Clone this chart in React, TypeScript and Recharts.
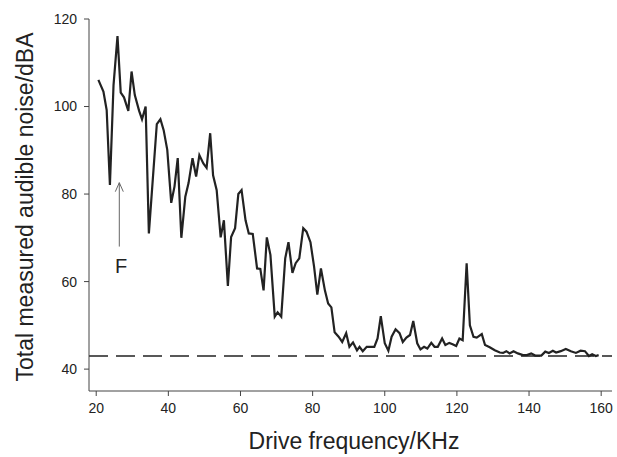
import { Line, LineChart, ReferenceDot, ReferenceLine, XAxis, YAxis } from 'recharts';

const freq = [
  20.6, 22, 22.9, 23.8, 24.8, 25.9, 26.8, 27.7, 28.9, 29.8, 30.7, 31.9, 32.7, 33.7, 34.6,
  36.8, 37.8, 38.7, 39.7, 40.8, 41.7, 42.6, 43.6, 44.7, 45.6, 46.7, 47.7, 48.6, 49.7,
  50.6, 51.6, 52.4, 53.4, 54.5, 55.4, 56.5, 57.4, 58.5, 59.4, 60.3, 61.4, 62.3, 63.4,
  64.6, 65.5, 66.4, 67.3, 68.3, 69.5, 70.3, 71.3, 72.4, 73.3, 74.4, 75.3, 76.3, 77.4,
  78.3, 79.4, 80.4, 81.3, 82.3, 83.4, 84.3, 85.2, 86.1, 87.2, 88.2, 89.3, 90.2, 91.2,
  92.3, 93, 93.9, 95, 97.1, 98, 98.9, 100, 101, 101.9, 103, 104.1, 105, 106, 107,
  107.9, 109, 109.9, 110.9, 111.8, 112.9, 113.8, 114.7, 115.9, 116.8, 117.9, 118.8,
  119.8, 120.7, 121.6, 122.7, 123.6, 124.6, 125.5, 126.9, 127.8, 129.1, 130.5, 131.9,
  132.8, 133.7, 134.6, 135.7, 136.9, 138.3, 139.4, 140.6, 141.7, 143.4, 144.5, 145.5,
  146.6, 147.5, 148.8, 150.2, 151.6, 153, 154.3, 155.5, 156.6, 157.5, 158.5, 159.3,
];
const noise = [
  106.1, 103.4, 99.2, 82.1, 104.9, 116.1, 103.2, 102.1, 99, 108, 102.6, 99, 97.1, 100, 71,
  96, 97.1, 94.6, 90.1, 78, 81.7, 88.2, 70, 79.4, 82.5, 88.2, 84, 88.9, 87,
  86, 93.9, 84.3, 80.9, 70.1, 74, 59, 70.2, 72.2, 80, 80.9, 74, 71, 70.9,
  63, 62.9, 58, 70.1, 66.1, 52, 53, 52, 65.3, 69, 62, 64.2, 65.3, 72.2,
  71.4, 69, 63.4, 57, 63, 58, 55, 54.1, 48.4, 47.4, 46.2, 48.2, 45.1, 46.1,
  44.3, 45.1, 44.1, 45.1, 45.1, 47, 52.1, 45.9, 44.2, 47.4, 49.1, 48.2, 46.2, 47.2, 47.8,
  51, 45.9, 44.5, 45.1, 44.7, 46, 45.1, 45.1, 47, 45.5, 46, 45.7,
  45.3, 47, 46.6, 64.2, 50, 47.4, 47.2, 48, 45.5, 45, 44.3, 43.8,
  43.7, 44.1, 43.6, 44.1, 43.6, 43.2, 43.2, 43.6, 43.1, 43.1, 44, 43.7,
  44.2, 43.8, 44.1, 44.6, 44.1, 43.7, 44.2, 44.1, 43, 43.4, 43, 43.2,
];
const xTicks = [20, 40, 60, 80, 100, 120, 140, 160];
const yTicks = [40, 60, 80, 100, 120];
const baseline = 43;
const markerX = 26.4;

const data = freq.map((f, i) => ({ freq: f, noise: noise[i] }));

const font = 'Arial, "Liberation Sans", sans-serif';
const ink = '#222';

export default function App() {
  return (
    <div style={{ position: 'absolute', left: 0, top: 0, background: '#fff' }}>
      <LineChart
        width={617}
        height={457}
        data={data}
        margin={{ top: 19, right: 5, bottom: 0, left: 0 }}
        style={{ fontFamily: font }}
      >
        <XAxis
          dataKey="freq"
          type="number"
          domain={[18, 163]}
          ticks={xTicks}
          allowDataOverflow
          height={66}
          stroke="#444"
          tickSize={5}
          tickMargin={7}
          tick={{ fill: ink, fontSize: 14 }}
          label={{
            content: () => (
              <text x={354} y={449} textAnchor="middle" fontSize={23} fill={ink} fontFamily={font}>
                Drive frequency/KHz
              </text>
            ),
          }}
        />
        <YAxis
          type="number"
          domain={[35, 120]}
          ticks={yTicks}
          allowDataOverflow
          width={89}
          stroke="#444"
          tickSize={5}
          tickMargin={7}
          tick={{ fill: ink, fontSize: 14 }}
          label={{
            content: () => (
              <text
                x={33}
                y={207}
                textAnchor="middle"
                fontSize={23}
                fill={ink}
                fontFamily={font}
                transform="rotate(-90 33 207)"
              >
                Total measured audible noise/dBA
              </text>
            ),
          }}
        />
        <ReferenceLine y={baseline} stroke={ink} strokeWidth={1.3} strokeDasharray="19 8" />
        <ReferenceLine
          segment={[
            { x: markerX, y: 68 },
            { x: markerX, y: 82.6 },
          ]}
          stroke="#666"
          strokeWidth={1}
          label={{
            content: () => (
              <text x={121} y={273} textAnchor="middle" fontSize={20} fill={ink} fontFamily={font}>
                F
              </text>
            ),
          }}
        />
        <ReferenceDot
          x={markerX}
          y={82.6}
          r={0}
          shape={(p: any) => (
            <path
              d={`M${p.cx - 4},${p.cy + 9} L${p.cx},${p.cy} L${p.cx + 4},${p.cy + 9}`}
              fill="none"
              stroke="#666"
              strokeWidth={1}
            />
          )}
        />
        <Line
          type="linear"
          dataKey="noise"
          stroke={ink}
          strokeWidth={2.2}
          dot={false}
          isAnimationActive={false}
        />
      </LineChart>
    </div>
  );
}
